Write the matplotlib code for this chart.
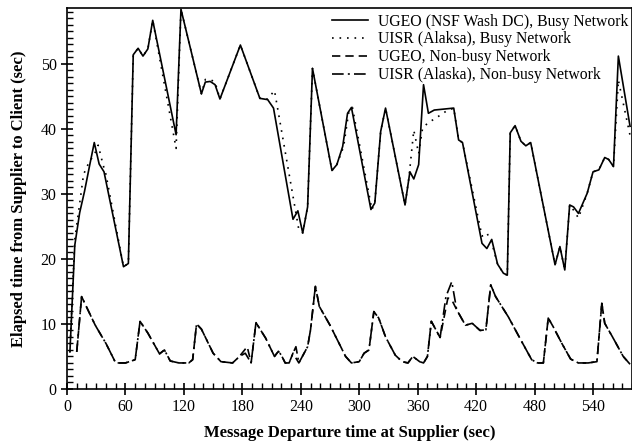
import matplotlib
matplotlib.use("Agg")
import matplotlib.pyplot as plt
from matplotlib.ticker import MultipleLocator

plt.rcParams['font.family'] = ['Liberation Serif', 'DejaVu Serif']

# UGEO (NSF Wash DC), busy network
ugeo_busy_t = [3, 8, 13, 18, 23, 28, 33, 38, 58, 63, 68, 73, 78, 83, 88, 112, 117,
               138, 142, 147, 152, 157, 178, 198, 206, 212, 232, 237, 242, 247, 252,
               272, 277, 283, 288, 292, 312, 316, 322, 327, 347, 352, 356, 361, 366,
               371, 377, 397, 402, 406, 426, 431, 436, 442, 448, 452, 455, 460, 466,
               471, 476, 501, 506, 511, 516, 520, 525, 534, 540, 546, 552, 556, 561,
               566, 578]
ugeo_busy_v = [5.7, 22.1, 27.1, 30.4, 34.2, 37.9, 34.6, 33.4, 18.8, 19.3, 51.4, 52.4,
               51.2, 52.3, 56.7, 39.1, 58.4, 45.4, 47.2, 47.3, 46.8, 44.6, 52.9, 44.7,
               44.5, 43.2, 26.1, 27.4, 24.0, 28.0, 49.3, 33.6, 34.5, 37.3, 42.4, 43.3,
               27.6, 28.6, 39.6, 43.2, 28.3, 33.4, 32.3, 34.5, 46.8, 42.4, 42.9, 43.2,
               38.3, 37.9, 22.4, 21.6, 23.0, 19.2, 17.8, 17.5, 39.4, 40.5, 38.1, 37.4,
               37.9, 19.1, 21.9, 18.3, 28.3, 28.0, 27.0, 30.1, 33.4, 33.7, 35.6, 35.3,
               34.2, 51.2, 40.4]

# UISR (Alaksa), busy network
uisr_busy_t = [3, 8, 13, 17, 23, 28, 32, 37, 40, 58, 63, 68, 73, 78, 83, 88, 112, 117,
               138, 142, 147, 152, 157, 178, 198, 206, 213, 238, 242, 247, 252,
               272, 277, 284, 289, 293, 313, 316, 322, 327, 347, 351, 356, 361, 365,
               371, 377, 389, 397, 402, 406, 426, 431, 436, 442, 448, 452, 455, 460, 466,
               471, 476, 501, 506, 511, 516, 520, 525, 534, 540, 546, 552, 556, 561,
               566, 578]
uisr_busy_v = [5.7, 23.0, 28.5, 33.0, 35.0, 36.0, 37.5, 34.5, 33.0, 18.8, 19.3, 51.4,
               52.4, 51.2, 52.3, 56.7, 37.0, 58.4, 45.4, 47.6, 47.6, 47.2, 44.6, 52.9,
               44.7, 44.6, 45.9, 24.5, 24.0, 28.0, 49.3, 33.6, 34.5, 37.3, 42.4, 43.3,
               27.6, 28.6, 39.6, 43.2, 28.3, 32.5, 39.8, 36.2, 40.1, 41.0, 41.5, 42.7,
               43.2, 38.3, 37.9, 23.5, 24.0, 22.5, 19.2, 17.8, 17.5, 39.4, 40.5, 38.1,
               37.4, 37.9, 19.1, 21.9, 18.3, 28.3, 27.5, 26.3, 30.1, 33.4, 33.7, 35.6,
               35.3, 34.2, 47.5, 39.0]

# UGEO, non-busy network
ugeo_idle_t = [10, 15, 29, 40, 50, 60, 70, 75, 83, 95, 100, 106, 115, 125, 129, 133,
               138, 150, 158, 170, 177, 185, 189, 194, 204, 213, 217, 220, 224, 228,
               232, 238, 247, 250, 255, 259, 270, 276, 286, 292, 300, 305, 310, 315,
               320, 327, 337, 344, 350, 355, 362, 366, 370, 374, 383, 391, 395, 400,
               409, 416, 424, 430, 435, 440, 453, 466, 477, 483, 489, 494, 499, 508,
               517, 525, 535, 544, 549, 552, 560, 571, 578]
ugeo_idle_v = [5.7, 14.2, 9.8, 7.0, 4.0, 4.0, 4.5, 10.4, 8.6, 5.4, 6.0, 4.3, 4.0, 4.0,
               4.5, 10.0, 9.2, 5.5, 4.2, 4.0, 5.0, 6.5, 4.0, 10.2, 7.8, 5.0, 5.8, 5.2,
               4.0, 4.0, 5.5, 4.0, 6.5, 9.1, 15.8, 12.7, 9.8, 8.0, 5.0, 4.0, 4.2, 5.5,
               6.0, 11.9, 10.9, 8.0, 5.2, 4.2, 4.0, 5.0, 4.2, 4.0, 5.0, 10.4, 7.9, 14.0,
               13.7, 12.2, 9.8, 10.1, 9.0, 9.1, 16.0, 14.2, 11.1, 7.5, 4.5, 4.0, 4.0,
               10.9, 9.6, 7.0, 4.6, 4.0, 4.0, 4.2, 13.2, 10.1, 8.0, 5.0, 3.8]

# UISR (Alaska), non-busy network
uisr_idle_t = [10, 15, 29, 40, 50, 60, 70, 75, 83, 95, 100, 106, 115, 125, 129, 133,
               138, 150, 158, 170, 177, 183, 189, 194, 204, 213, 217, 220, 224, 228,
               232, 235, 238, 247, 250, 255, 259, 270, 276, 286, 292, 300, 305, 310, 315,
               320, 327, 337, 344, 350, 355, 362, 366, 370, 374, 383, 389, 395, 400,
               409, 416, 424, 430, 435, 440, 453, 466, 477, 483, 489, 494, 499, 508,
               517, 525, 535, 544, 549, 552, 560, 571, 578]
uisr_idle_v = [5.7, 14.2, 9.8, 7.0, 4.0, 4.0, 4.5, 10.4, 8.6, 5.4, 6.0, 4.3, 4.0, 4.0,
               4.5, 10.0, 9.2, 5.5, 4.2, 4.0, 5.0, 5.5, 4.0, 10.2, 7.8, 5.0, 5.8, 5.2,
               4.0, 4.0, 5.5, 6.5, 4.0, 6.5, 9.1, 15.8, 12.7, 9.8, 8.0, 5.0, 4.0, 4.2, 5.5,
               6.0, 11.9, 10.9, 8.0, 5.2, 4.2, 4.0, 5.0, 4.2, 4.0, 5.0, 10.4, 7.9, 14.2,
               16.5, 12.2, 9.8, 10.1, 9.0, 9.1, 16.0, 14.2, 11.1, 7.5, 4.5, 4.0, 4.0,
               10.9, 9.6, 7.0, 4.6, 4.0, 4.0, 4.2, 13.2, 10.1, 8.0, 5.0, 3.8]

fig = plt.figure(figsize=(6.32, 4.43), dpi=100)
ax = fig.add_axes([0.106, 0.122, 0.894, 0.86])

ax.plot(ugeo_busy_t, ugeo_busy_v, color='black', lw=1.2, ls='-',
        label='UGEO (NSF Wash DC), Busy Network')
ax.plot(uisr_busy_t, uisr_busy_v, color='black', lw=1.2, ls=(0, (1, 3.5)),
        label='UISR (Alaksa), Busy Network')
ax.plot(ugeo_idle_t, ugeo_idle_v, color='black', lw=1.2, ls=(0, (5, 3)),
        label='UGEO, Non-busy Network')
ax.plot(uisr_idle_t, uisr_idle_v, color='black', lw=1.2, ls=(0, (7, 2.5, 1.2, 2.5)),
        label='UISR (Alaska), Non-busy Network')

ax.set_xlim(0, 580)
ax.set_ylim(0, 58.6)
ax.xaxis.set_major_locator(MultipleLocator(60))
ax.xaxis.set_minor_locator(MultipleLocator(10))
ax.yaxis.set_major_locator(MultipleLocator(10))
ax.yaxis.set_minor_locator(MultipleLocator(1))
ax.tick_params(which='major', direction='inout', length=8, width=1.2, labelsize=11.5)
ax.tick_params(which='minor', direction='in', length=4, width=1.0)
for s in ax.spines.values():
    s.set_linewidth(1.2)

ax.set_xlabel('Message Departure time at Supplier (sec)', fontsize=12, fontweight='bold', labelpad=7)
ax.set_ylabel('Elapsed time from Supplier to Client (sec)', fontsize=12, fontweight='bold', labelpad=10)

ax.legend(loc='upper right', bbox_to_anchor=(1.01, 1.01), frameon=False, fontsize=11.3,
          handlelength=2.3, handletextpad=0.6, labelspacing=0.12, borderaxespad=0.2)

fig.savefig('out.png', dpi=100)
